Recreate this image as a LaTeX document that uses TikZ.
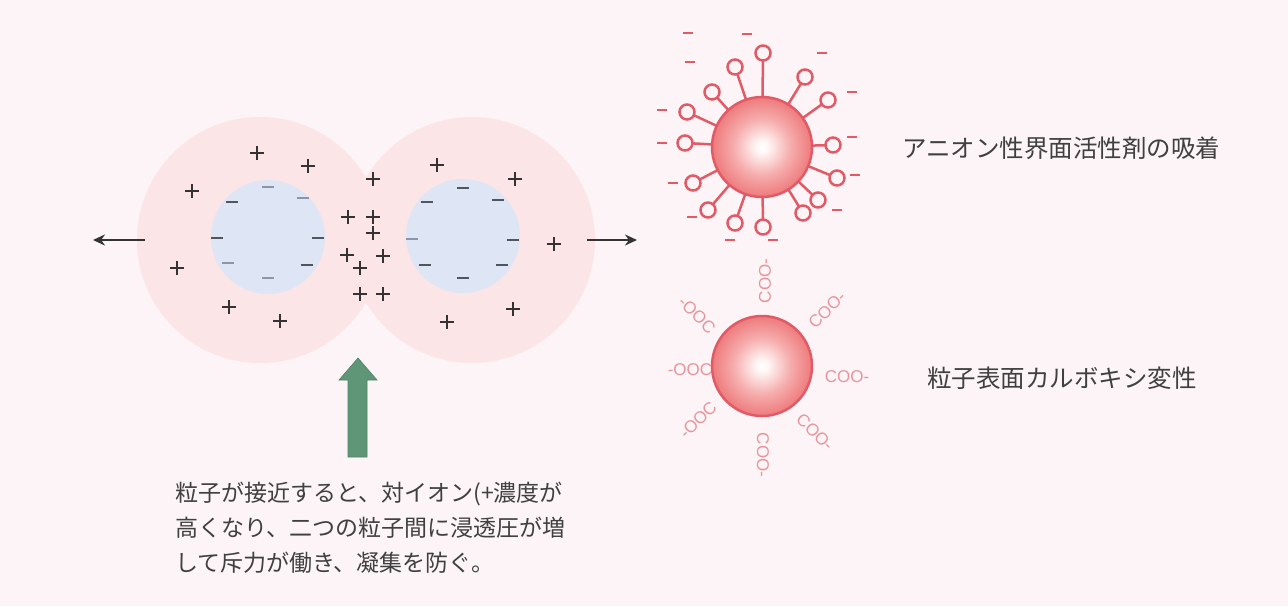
\documentclass[tikz,border=0pt]{standalone}
\usepackage{fontspec}
\setsansfont{Liberation Sans}
\newfontfamily\jp{Noto Sans CJK JP}
\usetikzlibrary{arrows.meta,calc}

\definecolor{bg}{HTML}{FCF4F6}
\definecolor{halo}{HTML}{FBE5E7}
\definecolor{core}{HTML}{DEE5F5}
\definecolor{ink}{HTML}{333333}
\definecolor{coreink}{HTML}{50555F}
\definecolor{corelight}{HTML}{8C96A8}
\definecolor{redline}{HTML}{E25A66}
\definecolor{coo}{HTML}{E8949C}
\definecolor{arrowgreen}{HTML}{5F9677}
\definecolor{arrowedge}{HTML}{4F8366}
\definecolor{textgray}{HTML}{404040}
\definecolor{sphedge}{HTML}{EE7A7C}
\definecolor{sphmid}{HTML}{F6AEAE}
\definecolor{sphhi}{HTML}{FFF6F6}

\pgfdeclareradialshading{bead}{\pgfpoint{0bp}{0bp}}{%
  color(0bp)=(white); color(3bp)=(sphhi); color(14bp)=(sphmid);
  color(25bp)=(sphedge); color(50bp)=(sphedge)}

\tikzset{
  plusion/.pic={\draw[ink, line width=1.4pt] (-7,0) -- (7,0) (0,-7) -- (0,7);},
  minusion/.pic={\draw[coreink, line width=1.6pt] (-6,0) -- (6,0);},
  minuslight/.pic={\draw[corelight, line width=1.6pt] (-6,0) -- (6,0);},
  particle/.style={circle, minimum size=100pt, inner sep=0pt, outer sep=0pt,
    draw=redline, line width=2.5pt, shading=bead},
  ring/.style={circle, minimum size=15pt, inner sep=0pt, outer sep=0pt,
    draw=redline, line width=2.5pt, fill=bg},
  stem/.style={draw=redline, line width=2.5pt},
  reddash/.style={draw=redline, line width=2.6pt},
  coo/.style={text=coo, inner sep=0pt, font=\sffamily\fontsize{17}{17}\selectfont},
  pusharrow/.style={draw=ink, line width=2pt, -{Stealth[length=12pt,width=11pt]}},
  caption/.style={text=textgray, inner sep=0pt, anchor=west,
    font=\jp\fontsize{24.5}{28}\selectfont},
}

\begin{document}
\begin{tikzpicture}[x=1pt, y=-1pt]
  % canvas
  \fill[bg] (0,0) rectangle (1288,606);
  \useasboundingbox (0,0) rectangle (1288,606);

  % two approaching particles with their ion clouds
  \fill[halo] (260,240) circle (123);
  \fill[halo] (472,240) circle (123);
  \fill[core] (268,237) circle (57);
  \fill[core] (463,236) circle (57);

  % surface charges
  \foreach \p in {(232,202),(217,238),(318,238),(307,265),
                  (463,188),(427,202),(498,200),(513,240),(425,265),(502,265),(463,278)}
    \pic at \p {minusion};
  \foreach \p in {(268,187),(303,198),(228,263),(268,278),(412,239)}
    \pic at \p {minuslight};

  % counter ions
  \foreach \p in {(257,153),(308,166),(192,191),(177,268),(229,307),(280,321),
                  (373,179),(348,217),(373,217),(373,233),(347,255),(383,256),
                  (360,268),(360,294),(383,294),
                  (437,165),(515,179),(554,244),(513,309),(447,322)}
    \pic at \p {plusion};

  % repulsion arrows
  \coordinate (lfrom) at (145,240);
  \coordinate (lto)   at (93,240);
  \coordinate (rfrom) at (587,240);
  \coordinate (rto)   at (637,240);
  \draw[pusharrow] (lfrom) -- (lto);
  \draw[pusharrow] (rfrom) -- (rto);

  % green pointer
  \filldraw[fill=arrowgreen, draw=arrowedge, line width=0.6pt]
    (348,457) -- (348,380) -- (339,380) -- (358,358) -- (377,380)
    -- (367,380) -- (367,457) -- cycle;

  % explanation
  \node[text=textgray, inner sep=0pt, anchor=north west, align=left,
        font=\jp\fontsize{23}{35}\selectfont] (note) at (175,482)
    {粒子が接近すると、対イオン(+濃度が\\
     高くなり、二つの粒子間に浸透圧が増\\
     して斥力が働き、凝集を防ぐ。};

  % adsorbed anionic surfactant
  \node[particle] (ptop) at (762,147) {};
  \foreach \x/\y [count=\i] in {735/67,763/53,805/77,828/100,712/92,687/112,
        685/143,833/145,837/178,693/183,818/200,803/213,708/210,735/223,763/227}{
    \node[ring] (ring\i) at (\x,\y) {};
    \draw[stem] (ptop) -- (ring\i);
  }
  \foreach \x/\y in {688/33,747/34,690/62,822/53,852/92,662/110,662/143,
        852/137,855/175,673/183,837/210,692/217,730/240,773/240}
    \draw[reddash] (\x-5,\y) -- (\x+5,\y);

  \node[caption] (capA) at (902,148) {アニオン性界面活性剤の吸着};

  % carboxy-modified surface
  \node[particle] (pbot) at (762,366) {};
  \node[coo, rotate=90]  (c1) at (765,281) {COO-};
  \node[coo, rotate=45]  (c2) at (827,310) {COO-};
  \node[coo]             (c3) at (847,377) {COO-};
  \node[coo, rotate=-45] (c4) at (815,432) {COO-};
  \node[coo, rotate=-90] (c5) at (763,455) {COO-};
  \node[coo, rotate=45]  (c6) at (698,420) {-OOC};
  \node[coo]             (c7) at (690,370) {-OOC};
  \node[coo, rotate=-45] (c8) at (697,315) {-OOC};

  \node[caption] (capB) at (927,378) {粒子表面カルボキシ変性};
\end{tikzpicture}
\end{document}
